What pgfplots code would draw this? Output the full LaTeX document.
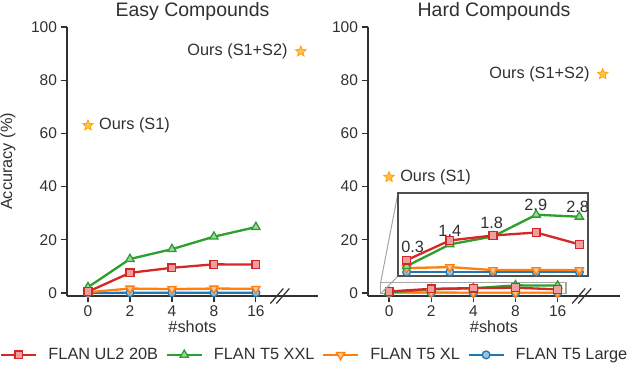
\documentclass[border=0pt]{standalone}
\usepackage{fontspec}
\setmainfont{Liberation Sans}
\usepackage{pgfplots}
\pgfplotsset{compat=1.18}

\definecolor{cred}{HTML}{D62728}
\definecolor{cgreen}{HTML}{2CA02C}
\definecolor{corange}{HTML}{FF7F0E}
\definecolor{cblue}{HTML}{1F77B4}
\definecolor{cstar}{HTML}{FFA500}
\definecolor{ink}{HTML}{303030}

\newcommand\tickfont{\fontsize{15.5}{18}\selectfont}
\newcommand\labfont{\fontsize{16.3}{19}\selectfont}
\newcommand\titfont{\fontsize{19.5}{23}\selectfont}

% filled five-point star
\pgfdeclareplotmark{fstar}{%
  \pgfpathmoveto{\pgfpointpolar{90}{\pgfplotmarksize}}%
  \pgfpathlineto{\pgfpointpolar{126}{0.45\pgfplotmarksize}}%
  \pgfpathlineto{\pgfpointpolar{162}{\pgfplotmarksize}}%
  \pgfpathlineto{\pgfpointpolar{198}{0.45\pgfplotmarksize}}%
  \pgfpathlineto{\pgfpointpolar{234}{\pgfplotmarksize}}%
  \pgfpathlineto{\pgfpointpolar{270}{0.45\pgfplotmarksize}}%
  \pgfpathlineto{\pgfpointpolar{306}{\pgfplotmarksize}}%
  \pgfpathlineto{\pgfpointpolar{342}{0.45\pgfplotmarksize}}%
  \pgfpathlineto{\pgfpointpolar{18}{\pgfplotmarksize}}%
  \pgfpathlineto{\pgfpointpolar{54}{0.45\pgfplotmarksize}}%
  \pgfpathclose\pgfusepathqfillstroke}

\pgfplotsset{
  ul2/.style={cred, line width=2.3pt, mark=square*, mark size=3.9pt,
    mark options={solid, fill=cred!45!white, line width=1.3pt}},
  xxl/.style={cgreen, line width=2.3pt, mark=triangle*, mark size=4.8pt,
    mark options={solid, fill=cgreen!45!white, line width=1.3pt}},
  xl/.style={corange, line width=2.3pt, mark=triangle*, mark size=4.8pt,
    mark options={solid, rotate=180, fill=corange!45!white, line width=1.3pt}},
  large/.style={cblue, line width=2.3pt, mark=*, mark size=3.9pt,
    mark options={solid, fill=cblue!45!white, line width=1.3pt}},
  ours/.style={only marks, mark=fstar, mark size=5.5pt, cstar,
    mark options={fill=cstar!70!white, line width=0.8pt}},
  panel/.style={
    scale only axis, width=251pt, height=269pt,
    xmin=-0.5, xmax=5.48, ymin=-1.1, ymax=100,
    axis x line*=bottom, axis y line*=left,
    axis line style={-, ink, line width=1.2pt},
    xtick={0,1,2,3,4}, xticklabels={0,2,4,8,16},
    ytick={0,20,40,60,80,100},
    tick align=outside, major tick length=6.5pt,
    tick style={ink, line width=1.2pt},
    tick label style={font=\tickfont, text=ink},
    /pgf/number format/assume math mode=true,
    title style={font=\titfont, text=ink, at={(0.5,1)}, anchor=base, yshift=4pt},
    xlabel={\#shots},
    xlabel style={font=\labfont, text=ink, at={(0.5,-0.115)}, anchor=center},
    clip=false,
  },
}

\begin{document}
\begin{tikzpicture}
\path[use as bounding box] (0,0) rectangle (634pt,366pt);

% ---------------- Easy compounds ----------------
\begin{axis}[panel, at={(67pt,70pt)}, anchor=south west,
    title={Easy Compounds},
    ylabel={Accuracy (\%)},
    ylabel style={font=\labfont, text=ink, at={(-0.235,0.5)}, anchor=center, rotate=0},
    legend style={at={(-0.267,-0.219)}, anchor=west, draw=none, fill=none,
      inner sep=0pt, font=\labfont, text=ink,
      nodes={inner sep=0pt},
      legend columns=4,
      /tikz/every odd column/.append style={column sep=11pt},
      /tikz/every even column/.append style={column sep=7.5pt}},
    legend cell align=left,
    legend image code/.code={\draw[mark repeat=2, mark phase=2, #1]
      plot coordinates {(0pt,0pt) (17.5pt,0pt) (35pt,0pt)};},
  ]
\addplot[large, forget plot] coordinates {(0,0) (1,0.1) (2,0.1) (3,0.1) (4,0.1)};
\addplot[xl, forget plot] coordinates {(0,0.3) (1,1.7) (2,1.5) (3,1.7) (4,1.6)};
\addplot[xxl, forget plot] coordinates {(0,2.2) (1,12.8) (2,16.5) (3,21.2) (4,24.8)};
\addplot[ul2, forget plot] coordinates {(0,0.5) (1,7.6) (2,9.5) (3,10.8) (4,10.7)};
\addplot[ours, forget plot] coordinates {(0,63)};
\addplot[ours, forget plot] coordinates {(5.07,90.8)};
\node[font=\labfont, text=ink, anchor=west, inner sep=0pt, xshift=11pt] at (axis cs:0,63) {Ours (S1)};
\node[font=\labfont, text=ink, anchor=east, inner sep=0pt, xshift=-13pt] at (axis cs:5.07,90.8) {Ours (S1+S2)};
\draw[ink, line width=1.2pt] ([xshift=-10pt,yshift=-7.5pt]rel axis cs:0.85,0) -- ++(13pt,15pt);
\draw[ink, line width=1.2pt] ([xshift=-4pt,yshift=-7.5pt]rel axis cs:0.85,0) -- ++(13pt,15pt);

\addlegendimage{ul2}\addlegendentry{FLAN UL2 20B}
\addlegendimage{xxl}\addlegendentry{FLAN T5 XXL}
\addlegendimage{xl}\addlegendentry{FLAN T5 XL}
\addlegendimage{large}\addlegendentry{FLAN T5 Large}
\end{axis}

% ---------------- Hard compounds ----------------
\begin{axis}[panel, at={(368pt,70pt)}, anchor=south west, width=252pt,
    title={Hard Compounds}]
\addplot[large] coordinates {(0,0) (1,0) (2,0) (3,0) (4,0)};
\addplot[xl] coordinates {(0,0.2) (1,0.25) (2,0.1) (3,0.1) (4,0.1)};
\addplot[xxl] coordinates {(0,0.3) (1,1.4) (2,1.8) (3,2.9) (4,2.8)};
\addplot[ul2] coordinates {(0,0.6) (1,1.6) (2,1.85) (3,2.0) (4,1.4)};
\addplot[ours] coordinates {(0,43.6)};
\addplot[ours] coordinates {(5.07,82.3)};
\node[font=\labfont, text=ink, anchor=west, inner sep=0pt, xshift=11pt] at (axis cs:0,43.6) {Ours (S1)};
\node[font=\labfont, text=ink, anchor=east, inner sep=0pt, xshift=-13pt] at (axis cs:5.07,82.3) {Ours (S1+S2)};
\draw[black!35, line width=1.2pt] (axis cs:-0.2,-0.2) rectangle (axis cs:4.2,4.0);
\coordinate (rul) at (axis cs:-0.2,4.0);
\coordinate (rll) at (axis cs:-0.2,-0.2);
\draw[ink, line width=1.2pt] ([xshift=-10pt,yshift=-7.5pt]rel axis cs:0.85,0) -- ++(13pt,15pt);
\draw[ink, line width=1.2pt] ([xshift=-4pt,yshift=-7.5pt]rel axis cs:0.85,0) -- ++(13pt,15pt);
\end{axis}

\draw[black!35, line width=1pt] (rul) -- (398pt,173pt);
\draw[black!35, line width=1pt] (rll) -- (398pt,90pt);

% ---------------- inset ----------------
\begin{axis}[name=inset, at={(398pt,90pt)}, anchor=south west,
    scale only axis, width=190pt, height=83pt,
    xmin=-0.2, xmax=4.2, ymin=-0.2, ymax=4.0,
    xtick=\empty, ytick=\empty,
    axis line style={ink!85, line width=1.2pt},
    axis background/.style={fill=white},
    clip mode=individual]
\addplot[large] coordinates {(0,0) (1,0) (2,0) (3,0) (4,0)};
\addplot[xl] coordinates {(0,0.2) (1,0.25) (2,0.1) (3,0.1) (4,0.1)};
\addplot[xxl] coordinates {(0,0.3) (1,1.4) (2,1.8) (3,2.9) (4,2.8)};
\addplot[ul2] coordinates {(0,0.6) (1,1.6) (2,1.85) (3,2.0) (4,1.4)};
\node[font=\labfont, text=ink, inner sep=0pt] at (axis cs:0.14,1.29) {0.3};
\node[font=\labfont, text=ink, inner sep=0pt] at (axis cs:1.0,2.1) {1.4};
\node[font=\labfont, text=ink, inner sep=0pt] at (axis cs:1.97,2.5) {1.8};
\node[font=\labfont, text=ink, inner sep=0pt] at (axis cs:2.99,3.41) {2.9};
\node[font=\labfont, text=ink, inner sep=0pt] at (axis cs:3.96,3.31) {2.8};
\end{axis}
\end{tikzpicture}
\end{document}
